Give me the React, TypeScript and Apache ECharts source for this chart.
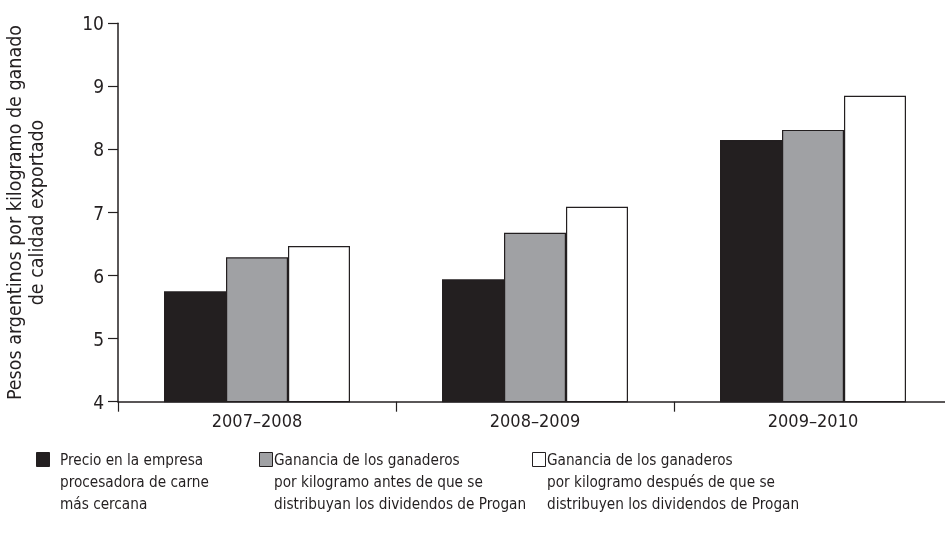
import React, { useEffect, useRef } from "react";
import * as echarts from "echarts";

const categories = ["2007–2008", "2008–2009", "2009–2010"];
const seriesNames = [
  "Precio en la empresa\nprocesadora de carne\nmás cercana",
  "Ganancia de los ganaderos\npor kilogramo antes de que se\ndistribuyan los dividendos de Progan",
  "Ganancia de los ganaderos\npor kilogramo después de que se\ndistribuyen los dividendos de Progan",
];
const precioPlanta = [5.75, 5.94, 8.15];
const gananciaAntes = [6.29, 6.68, 8.31];
const gananciaDespues = [6.47, 7.09, 8.85];
const yTicks = [4, 5, 6, 7, 8, 9, 10];
const yTitle = "Pesos argentinos por kilogramo de ganado\nde calidad exportado";

const FONT = "'Liberation Sans Narrow', 'DejaVu Sans Condensed', 'Roboto Condensed', 'Open Sans', sans-serif";
const INK = "#231f20";
const fills = ["#231f20", "#a0a1a4", "#ffffff"];
const legendX = [36, 259, 532];

export default function App() {
  const ref = useRef<HTMLDivElement>(null);
  useEffect(() => {
    document.body.style.margin = "0";
    const chart = echarts.init(ref.current!, undefined, { renderer: "svg" });
    const values = [precioPlanta, gananciaAntes, gananciaDespues];
    const graphic: any[] = [];
    seriesNames.forEach((name, i) => {
      graphic.push({
        type: "rect",
        shape: { x: legendX[i] + 0.5, y: 452.5, width: 13, height: 14 },
        style: { fill: fills[i], stroke: INK, lineWidth: 1 },
      });
      graphic.push({
        type: "text",
        x: legendX[i] + 24 - (i === 0 ? 0 : 9),
        y: 449,
        style: {
          text: name,
          fontFamily: FONT,
          fontSize: 15.2,
          lineHeight: 22,
          fill: INK,
          textAlign: "left",
          textVerticalAlign: "top",
        },
      });
    });
    chart.setOption({
      animation: false,
      grid: {
        left: 118,
        top: 23.3,
        width: 834,
        height: 378.4,
        containLabel: false,
        outerBoundsMode: "none",
      },
      xAxis: {
        type: "category",
        data: categories,
        axisLine: { lineStyle: { color: INK, width: 1.5 } },
        axisTick: { show: true, length: 10, lineStyle: { color: INK, width: 1.2 } },
        axisLabel: { color: INK, fontFamily: FONT, fontSize: 18, margin: 10 },
      },
      yAxis: {
        type: "value",
        min: yTicks[0],
        max: yTicks[yTicks.length - 1],
        interval: 1,
        splitLine: { show: false },
        axisLine: { show: true, lineStyle: { color: INK, width: 1.5 } },
        axisTick: { show: true, length: 10, lineStyle: { color: INK, width: 1.2 } },
        axisLabel: { color: INK, fontFamily: FONT, fontSize: 19, margin: 14 },
        name: yTitle,
        nameLocation: "middle",
        nameRotate: 90,
        nameGap: 71,
        nameTextStyle: { color: INK, fontFamily: FONT, fontSize: 19.5, lineHeight: 22, align: "center" },
      },
      graphic,
      series: values.map((v, i) => ({
        type: "bar",
        name: seriesNames[i],
        data: v,
        barWidth: "22.3%",
        barGap: "0%",
        itemStyle: { color: fills[i], borderColor: INK, borderWidth: 1.2 },
      })),
    });
    return () => chart.dispose();
  }, []);
  return <div ref={ref} style={{ position: "fixed", left: 0, top: 0, width: 945, height: 542 }} />;
}
